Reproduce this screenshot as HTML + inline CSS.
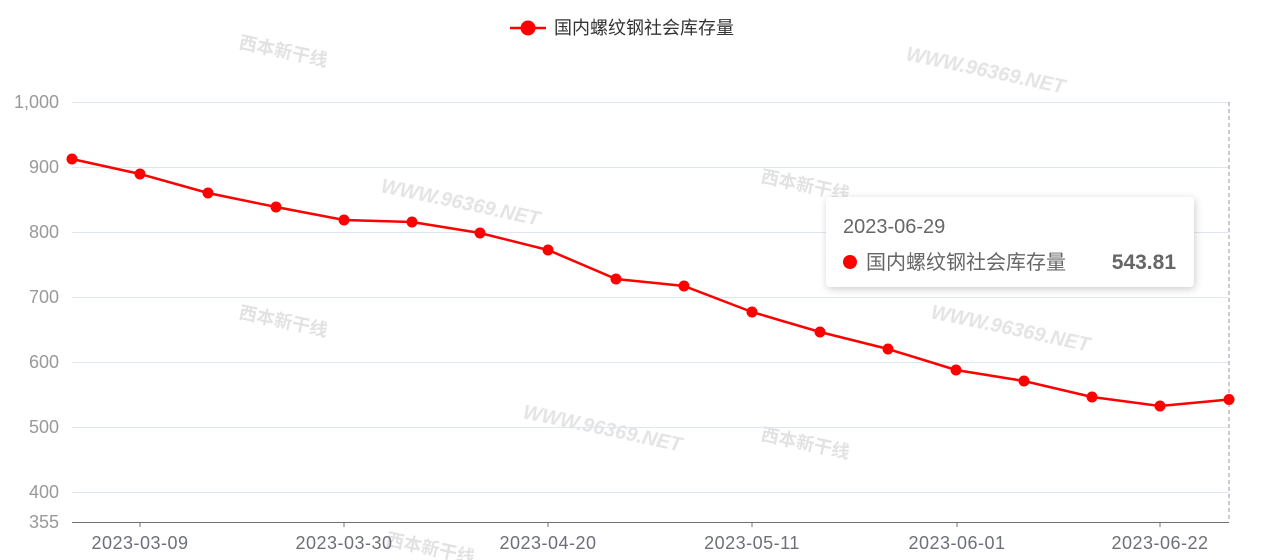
<!DOCTYPE html>
<html><head><meta charset="utf-8"><style>
html,body{margin:0;padding:0;background:#fff;width:1269px;height:560px;overflow:hidden}
svg{display:block}
text{font-family:"Liberation Sans","Noto Sans CJK SC",sans-serif}
</style></head><body>
<svg width="1269" height="560" viewBox="0 0 1269 560">
<g fill="#d8d8d8" font-size="20" font-weight="bold" font-style="italic" font-family="Liberation Serif,serif" opacity="0.7">
<text x="905" y="60" transform="rotate(12 905 60)">WWW.96369.NET</text>
<text x="380" y="192" transform="rotate(12 380 192)">WWW.96369.NET</text>
<text x="930" y="318" transform="rotate(12 930 318)">WWW.96369.NET</text>
<text x="522" y="418" transform="rotate(12 522 418)">WWW.96369.NET</text>
</g>
<g fill="#e2e2e2" font-size="18" font-weight="bold" font-family="Noto Sans CJK SC,sans-serif">
<text x="238" y="48" transform="rotate(12 238 48)">西本新干线</text>
<text x="760" y="182" transform="rotate(12 760 182)">西本新干线</text>
<text x="238" y="318" transform="rotate(12 238 318)">西本新干线</text>
<text x="760" y="440" transform="rotate(12 760 440)">西本新干线</text>
<text x="385" y="545" transform="rotate(12 385 545)">西本新干线</text>
</g>
<g stroke="#e0e6f1" stroke-width="1">
<line x1="72" x2="1229" y1="102.5" y2="102.5"/>
<line x1="72" x2="1229" y1="167.5" y2="167.5"/>
<line x1="72" x2="1229" y1="232.5" y2="232.5"/>
<line x1="72" x2="1229" y1="297.5" y2="297.5"/>
<line x1="72" x2="1229" y1="362.5" y2="362.5"/>
<line x1="72" x2="1229" y1="427.5" y2="427.5"/>
<line x1="72" x2="1229" y1="492.5" y2="492.5"/>
</g>
<g fill="#999" font-size="18" text-anchor="end">
<text x="59" y="108">1,000</text>
<text x="59" y="173">900</text>
<text x="59" y="238">800</text>
<text x="59" y="303">700</text>
<text x="59" y="368">600</text>
<text x="59" y="433">500</text>
<text x="59" y="498">400</text>
<text x="59" y="528">355</text>
</g>
<line x1="1229" x2="1229" y1="102" y2="522" stroke="#999" stroke-dasharray="4,3"/>
<line x1="72" x2="1229" y1="522.5" y2="522.5" stroke="#6e7079"/>
<g stroke="#6e7079">
<line x1="140" x2="140" y1="522" y2="527"/><line x1="344" x2="344" y1="522" y2="527"/>
<line x1="548" x2="548" y1="522" y2="527"/><line x1="752" x2="752" y1="522" y2="527"/>
<line x1="957" x2="957" y1="522" y2="527"/><line x1="1160" x2="1160" y1="522" y2="527"/>
</g>
<g fill="#6e7079" font-size="18" text-anchor="middle" letter-spacing="0.5">
<text x="140" y="549">2023-03-09</text><text x="344" y="549">2023-03-30</text>
<text x="548" y="549">2023-04-20</text><text x="752" y="549">2023-05-11</text>
<text x="957" y="549">2023-06-01</text><text x="1160" y="549">2023-06-22</text>
</g>
<polyline fill="none" stroke="#f00" stroke-width="2.5" points="72,159 140,174 208,193 276,207 344,220 412,222 480,233 548,250 616,279 684,286 752,312 820,332 888,349 956,370 1024,381 1092,397 1160,406 1229,399.5"/>
<g fill="#f00">
<circle cx="72" cy="159" r="5.5"/><circle cx="140" cy="174" r="5.5"/><circle cx="208" cy="193" r="5.5"/>
<circle cx="276" cy="207" r="5.5"/><circle cx="344" cy="220" r="5.5"/><circle cx="412" cy="222" r="5.5"/>
<circle cx="480" cy="233" r="5.5"/><circle cx="548" cy="250" r="5.5"/><circle cx="616" cy="279" r="5.5"/>
<circle cx="684" cy="286" r="5.5"/><circle cx="752" cy="312" r="5.5"/><circle cx="820" cy="332" r="5.5"/>
<circle cx="888" cy="349" r="5.5"/><circle cx="956" cy="370" r="5.5"/><circle cx="1024" cy="381" r="5.5"/>
<circle cx="1092" cy="397" r="5.5"/><circle cx="1160" cy="406" r="5.5"/><circle cx="1229" cy="399.5" r="5.5"/>
</g>
<line x1="510" x2="546" y1="28" y2="28" stroke="#f00" stroke-width="2.5"/>
<circle cx="528" cy="28" r="7.5" fill="#f00"/>
<text x="554" y="34" font-size="18" fill="#333">国内螺纹钢社会库存量</text>
<defs><filter id="sh" x="-10%" y="-20%" width="120%" height="150%"><feDropShadow dx="1" dy="2" stdDeviation="4" flood-color="#000" flood-opacity="0.2"/></filter></defs>
<rect x="826" y="197" width="368" height="90" rx="4" fill="#fff" filter="url(#sh)"/>
<text x="843" y="233" font-size="20" fill="#666">2023-06-29</text>
<circle cx="850" cy="262" r="7" fill="#f00"/>
<text x="866" y="269" font-size="20" fill="#666">国内螺纹钢社会库存量</text>
<text x="1176" y="269" font-size="21" font-weight="bold" fill="#666" text-anchor="end">543.81</text>
</svg>
</body></html>
